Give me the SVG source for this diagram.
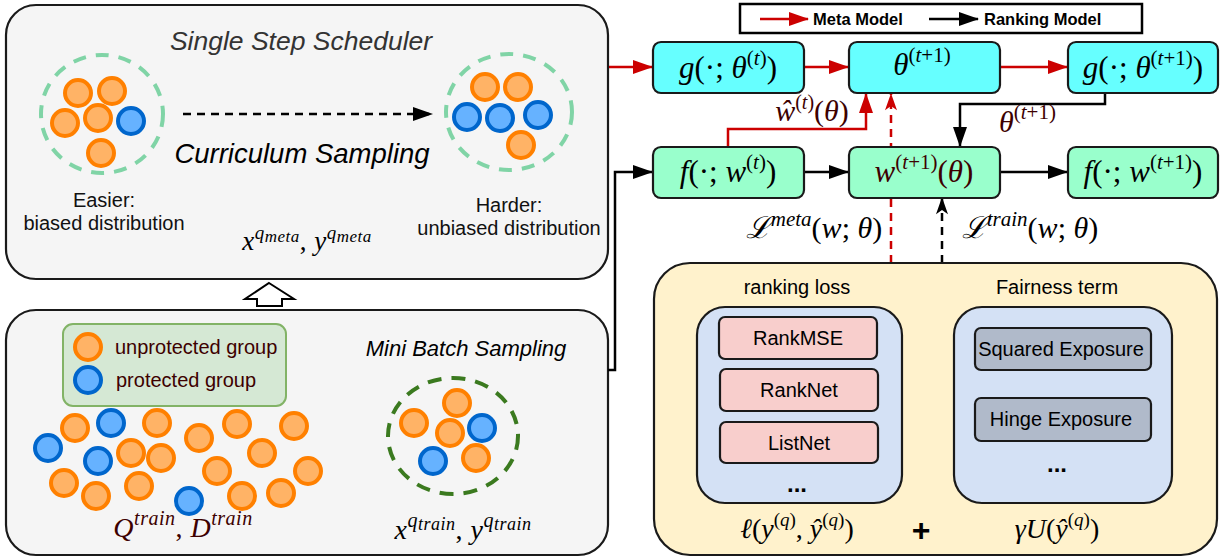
<svg xmlns="http://www.w3.org/2000/svg" width="1220" height="558" viewBox="0 0 1220 558">
<style>
.panel{fill:#F5F5F5;stroke:#1a1a1a;stroke-width:2.2}
.o{fill:#FFB366;stroke:#FF8000;stroke-width:4}
.b{fill:#66B2FF;stroke:#0066CC;stroke-width:4}
.sans{font-family:"Liberation Sans",Arial,sans-serif}
.m{font-family:"Liberation Serif","DejaVu Serif",serif}
.it{font-style:italic}
.red{stroke:#CC0000;stroke-width:2.5;fill:none}
.blk{stroke:#000;stroke-width:2.5;fill:none}
.cy{fill:#66FFFF;stroke:#1a1a1a;stroke-width:2.2}
.mt{fill:#99FFCC;stroke:#1a1a1a;stroke-width:2.2}
.pk{fill:#F8CECC;stroke:#1a1a1a;stroke-width:2.2}
.gy{fill:#B0BACA;stroke:#1a1a1a;stroke-width:2.2}
.lb{fill:#D4E1F5;stroke:#1a1a1a;stroke-width:2.2}
.mar{fill:#3d0000}
</style>
<defs>
<marker id="ar" viewBox="0 0 20 14" refX="19" refY="7" markerWidth="20" markerHeight="14" markerUnits="userSpaceOnUse" orient="auto"><path d="M0,0 L20,7 L0,14 z" fill="#CC0000"/></marker>
<marker id="ab" viewBox="0 0 20 14" refX="19" refY="7" markerWidth="20" markerHeight="14" markerUnits="userSpaceOnUse" orient="auto"><path d="M0,0 L20,7 L0,14 z" fill="#000"/></marker>
<marker id="arn" viewBox="0 0 20 14" refX="19" refY="7" markerWidth="18" markerHeight="12" markerUnits="userSpaceOnUse" orient="auto"><path d="M0,0 L20,7 L0,14 L5,7 z" fill="#CC0000"/></marker>
<marker id="abn" viewBox="0 0 20 14" refX="19" refY="7" markerWidth="18" markerHeight="12" markerUnits="userSpaceOnUse" orient="auto"><path d="M0,0 L20,7 L0,14 L5,7 z" fill="#000"/></marker>
</defs>
<rect width="1220" height="558" fill="#fff"/>

<!-- Single Step Scheduler panel -->
<g id="scheduler">
<rect class="panel" x="6" y="5" width="602" height="274" rx="30"/>
<text class="sans it" x="301" y="50" font-size="26.5" fill="#333" text-anchor="middle">Single Step Scheduler</text>
<ellipse cx="102" cy="114" rx="61" ry="59" fill="none" stroke="#80D4A6" stroke-width="4" stroke-dasharray="13 10"/>
<circle class="o" cx="78" cy="93" r="13"/>
<circle class="o" cx="112" cy="91" r="13"/>
<circle class="o" cx="65" cy="123" r="13"/>
<circle class="o" cx="98" cy="118" r="13"/>
<circle class="b" cx="131" cy="121" r="13"/>
<circle class="o" cx="101" cy="153" r="13"/>
<path d="M183,114 L432,114" stroke="#000" stroke-width="2.5" stroke-dasharray="8 6" fill="none" marker-end="url(#ab)"/>
<text class="sans it" x="302" y="163" font-size="27.5" fill="#000" text-anchor="middle">Curriculum Sampling</text>
<ellipse cx="509" cy="112" rx="63" ry="58" fill="none" stroke="#80D4A6" stroke-width="4" stroke-dasharray="13 10"/>
<circle class="o" cx="485" cy="87" r="13"/>
<circle class="o" cx="518" cy="87" r="13"/>
<circle class="b" cx="467" cy="117" r="13"/>
<circle class="b" cx="500" cy="118" r="13"/>
<circle class="b" cx="538" cy="115" r="13"/>
<circle class="o" cx="521" cy="145" r="13"/>
<text class="sans" x="104" y="207" font-size="20" fill="#111" text-anchor="middle">Easier:</text>
<text class="sans" x="104" y="230" font-size="20" fill="#111" text-anchor="middle">biased distribution</text>
<text class="sans" x="509" y="212" font-size="20" fill="#111" text-anchor="middle">Harder:</text>
<text class="sans" x="509" y="235" font-size="20" fill="#111" text-anchor="middle">unbiased distribution</text>
<text class="m it" x="307" y="250" font-size="27" text-anchor="middle" letter-spacing="0.5">x<tspan font-size="19" dy="-11">q</tspan><tspan font-size="17" dy="3">meta</tspan><tspan dy="8" font-style="normal">, </tspan>y<tspan font-size="19" dy="-11">q</tspan><tspan font-size="17" dy="3">meta</tspan></text>
</g>

<!-- hollow up arrow -->
<g id="up-arrow">
<polygon points="269,283 294,299 282,299 282,306 257,306 257,299 245,299" fill="#fff" stroke="#000" stroke-width="2"/>
</g>

<!-- Mini batch panel -->
<g id="minibatch">
<rect class="panel" x="6" y="310" width="602" height="245" rx="30"/>
<rect x="63" y="324" width="223" height="82" rx="10" fill="#D5E8D4" stroke="#82B366" stroke-width="2"/>
<circle class="o" cx="88" cy="347" r="13"/>
<circle class="b" cx="88" cy="380" r="13"/>
<text class="sans mar" x="115" y="354" font-size="20">unprotected group</text>
<text class="sans mar" x="116" y="387" font-size="20">protected group</text>
<text class="sans it" x="466" y="356" font-size="22" text-anchor="middle">Mini Batch Sampling</text>
<circle class="o" cx="75" cy="428" r="13"/>
<circle class="b" cx="111" cy="423" r="13"/>
<circle class="o" cx="157" cy="423" r="13"/>
<circle class="b" cx="48" cy="448" r="13"/>
<circle class="b" cx="98" cy="461" r="13"/>
<circle class="o" cx="131" cy="453" r="13"/>
<circle class="o" cx="161" cy="458" r="13"/>
<circle class="o" cx="64" cy="483" r="13"/>
<circle class="o" cx="96" cy="496" r="13"/>
<circle class="o" cx="139" cy="486" r="13"/>
<circle class="o" cx="199" cy="438" r="13"/>
<circle class="o" cx="237" cy="424" r="13"/>
<circle class="o" cx="294" cy="426" r="13"/>
<circle class="o" cx="262" cy="453" r="13"/>
<circle class="o" cx="217" cy="471" r="13"/>
<circle class="o" cx="308" cy="471" r="13"/>
<circle class="b" cx="189" cy="501" r="13"/>
<circle class="o" cx="242" cy="496" r="13"/>
<circle class="o" cx="281" cy="493" r="13"/>
<ellipse cx="453" cy="436" rx="65" ry="58" fill="none" stroke="#3B7A1F" stroke-width="4" stroke-dasharray="14 10"/>
<circle class="o" cx="414" cy="423" r="13"/>
<circle class="o" cx="450" cy="433" r="13"/>
<circle class="o" cx="457" cy="403" r="13"/>
<circle class="b" cx="482" cy="428" r="13"/>
<circle class="b" cx="433" cy="461" r="13"/>
<circle class="o" cx="476" cy="458" r="13"/>
<text class="m it mar" x="183" y="537" font-size="28" text-anchor="middle" letter-spacing="0.5">Q<tspan font-size="20" dy="-12">train</tspan><tspan dy="12" font-style="normal">, </tspan>D<tspan font-size="20" dy="-12">train</tspan></text>
<text class="m it" x="463" y="539" font-size="28" text-anchor="middle" letter-spacing="0.5">x<tspan font-size="20" dy="-12">q</tspan><tspan font-size="18" dy="3">train</tspan><tspan dy="9" font-style="normal">, </tspan>y<tspan font-size="20" dy="-12">q</tspan><tspan font-size="18" dy="3">train</tspan></text>
</g>

<!-- legend -->
<g id="legend">
<rect x="740" y="4" width="402" height="29" fill="#fff" stroke="#000" stroke-width="2.5"/>
<path d="M760,19 L808,19" class="red" marker-end="url(#ar)"/>
<text class="sans" x="813" y="25" font-size="16.5" font-weight="bold">Meta Model</text>
<path d="M929,19 L978,19" class="blk" marker-end="url(#ab)"/>
<text class="sans" x="984" y="25" font-size="16.5" font-weight="bold">Ranking Model</text>
</g>

<!-- connectors -->
<g id="connectors">
<path class="red" d="M609,67 L652,67" marker-end="url(#ar)"/>
<path class="red" d="M804,67 L848,67" marker-end="url(#ar)"/>
<path class="red" d="M1000,67 L1067,67" marker-end="url(#ar)"/>
<path class="red" d="M728,147 L728,129 L866,129 L866,94" marker-end="url(#ar)"/>
<path class="red" d="M891,263 L891,94" stroke-dasharray="8 6" marker-end="url(#arn)"/>
<path class="blk" d="M1105,93 L1105,104 L960,104 L960,146" marker-end="url(#ab)"/>
<path class="blk" d="M608,370 L615,370 L615,172 L652,172" marker-end="url(#ab)"/>
<path class="blk" d="M804,172 L848,172" marker-end="url(#ab)"/>
<path class="blk" d="M1000,172 L1067,172" marker-end="url(#ab)"/>
<path class="blk" d="M942,263 L942,198" stroke-dasharray="8 6" marker-end="url(#abn)"/>
<text class="m mar" x="812" y="121" font-size="30" text-anchor="middle"><tspan class="it">ŵ</tspan><tspan font-size="20" dy="-12">(<tspan class="it">t</tspan>)</tspan><tspan dy="12">(<tspan class="it">θ</tspan>)</tspan></text>
<text class="m mar" x="999" y="132" font-size="30"><tspan class="it">θ</tspan><tspan font-size="21" dy="-13">(<tspan class="it">t</tspan>+1)</tspan></text>
<text class="m" x="814" y="238" font-size="30" text-anchor="middle"><tspan class="it">ℒ</tspan><tspan class="it" font-size="21" dy="-12">meta</tspan><tspan dy="12">(<tspan class="it">w</tspan>; <tspan class="it">θ</tspan>)</tspan></text>
<text class="m" x="1030" y="238" font-size="30" text-anchor="middle"><tspan class="it">ℒ</tspan><tspan class="it" font-size="21" dy="-12">train</tspan><tspan dy="12">(<tspan class="it">w</tspan>; <tspan class="it">θ</tspan>)</tspan></text>
</g>

<!-- model nodes -->
<g id="g-t">
<rect class="cy" x="653" y="42" width="151" height="51" rx="8"/>
<text class="m" x="728" y="78" font-size="31" text-anchor="middle"><tspan class="it">g</tspan>(·; <tspan class="it">θ</tspan><tspan font-size="21" dy="-13">(<tspan class="it">t</tspan>)</tspan><tspan dy="13">)</tspan></text>
</g>
<g id="theta-t1">
<rect class="cy" x="849" y="42" width="151" height="51" rx="8"/>
<text class="m" x="922" y="75" font-size="31" text-anchor="middle"><tspan class="it">θ</tspan><tspan font-size="21" dy="-13">(<tspan class="it">t</tspan>+1)</tspan></text>
</g>
<g id="g-t1">
<rect class="cy" x="1068" y="42" width="150" height="51" rx="8"/>
<text class="m" x="1143" y="78" font-size="31" text-anchor="middle"><tspan class="it">g</tspan>(·; <tspan class="it">θ</tspan><tspan font-size="21" dy="-13">(<tspan class="it">t</tspan>+1)</tspan><tspan dy="13">)</tspan></text>
</g>
<g id="f-t">
<rect class="mt" x="653" y="147" width="151" height="51" rx="8"/>
<text class="m" x="728" y="182" font-size="31" text-anchor="middle"><tspan class="it">f</tspan>(·; <tspan class="it">w</tspan><tspan font-size="21" dy="-13">(<tspan class="it">t</tspan>)</tspan><tspan dy="13">)</tspan></text>
</g>
<g id="w-t1">
<rect class="mt" x="849" y="147" width="151" height="51" rx="8"/>
<text class="m mar" x="924" y="182" font-size="31" text-anchor="middle"><tspan class="it">w</tspan><tspan font-size="21" dy="-13">(<tspan class="it">t</tspan>+1)</tspan><tspan dy="13">(<tspan class="it">θ</tspan>)</tspan></text>
</g>
<g id="f-t1">
<rect class="mt" x="1068" y="147" width="150" height="51" rx="8"/>
<text class="m" x="1143" y="182" font-size="31" text-anchor="middle"><tspan class="it">f</tspan>(·; <tspan class="it">w</tspan><tspan font-size="21" dy="-13">(<tspan class="it">t</tspan>+1)</tspan><tspan dy="13">)</tspan></text>
</g>

<!-- loss panel -->
<g id="loss">
<rect x="654" y="263" width="563" height="292" rx="36" fill="#FFF2CC" stroke="#1a1a1a" stroke-width="2.2"/>
<text class="sans" x="797" y="294" font-size="20" text-anchor="middle">ranking loss</text>
<text class="sans" x="1057" y="294" font-size="20" text-anchor="middle">Fairness term</text>
<text class="m" x="797" y="538" font-size="28" text-anchor="middle"><tspan class="it">ℓ</tspan>(<tspan class="it">y</tspan><tspan font-size="19" dy="-12">(<tspan class="it">q</tspan>)</tspan><tspan dy="12">, </tspan><tspan class="it">ŷ</tspan><tspan font-size="19" dy="-12">(<tspan class="it">q</tspan>)</tspan><tspan dy="12">)</tspan></text>
<text class="sans" x="921" y="541" font-size="32" font-weight="bold" text-anchor="middle">+</text>
<text class="m" x="1057" y="538" font-size="28" text-anchor="middle"><tspan class="it">γU</tspan>(<tspan class="it">ŷ</tspan><tspan font-size="19" dy="-12">(<tspan class="it">q</tspan>)</tspan><tspan dy="12">)</tspan></text>
</g>
<g id="ranking-loss">
<rect class="lb" x="697" y="307" width="205" height="196" rx="28"/>
<text class="sans" x="797" y="492" font-size="24" font-weight="bold" text-anchor="middle">...</text>
</g>
<g id="rankmse">
<rect class="pk" x="719" y="317" width="158" height="42" rx="6"/>
<text class="sans" x="798" y="345" font-size="20" text-anchor="middle">RankMSE</text>
</g>
<g id="ranknet">
<rect class="pk" x="720" y="369" width="158" height="42" rx="6"/>
<text class="sans" x="799" y="397" font-size="20" text-anchor="middle">RankNet</text>
</g>
<g id="listnet">
<rect class="pk" x="720" y="422" width="158" height="41" rx="6"/>
<text class="sans" x="799" y="450" font-size="20" text-anchor="middle">ListNet</text>
</g>
<g id="fairness-term">
<rect class="lb" x="954" y="307" width="218" height="196" rx="28"/>
<text class="sans" x="1057" y="472" font-size="24" font-weight="bold" text-anchor="middle">...</text>
</g>
<g id="squared-exposure">
<rect class="gy" x="975" y="328" width="176" height="42" rx="6"/>
<text class="sans" x="1061" y="356" font-size="20" text-anchor="middle">Squared Exposure</text>
</g>
<g id="hinge-exposure">
<rect class="gy" x="975" y="398" width="176" height="43" rx="6"/>
<text class="sans" x="1061" y="426" font-size="20" text-anchor="middle">Hinge Exposure</text>
</g>
</svg>
